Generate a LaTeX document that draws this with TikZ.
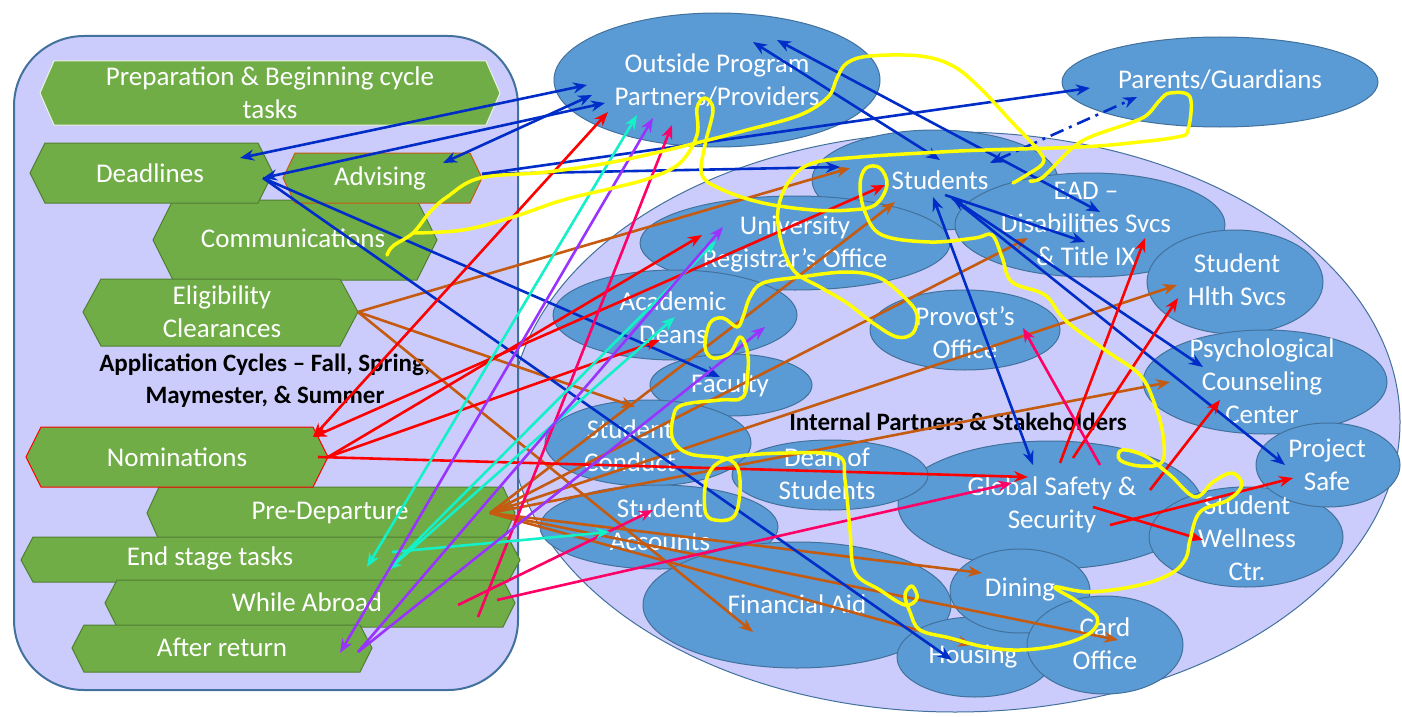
\documentclass[tikz,border=0pt]{standalone}
\usepackage{fontspec}
\setmainfont{Carlito}
\usetikzlibrary{arrows.meta,shapes.geometric}
\definecolor{lav}{RGB}{204,204,252}
\definecolor{ellf}{RGB}{91,155,213}
\definecolor{elld}{RGB}{65,113,156}
\definecolor{grn}{RGB}{112,173,71}
\definecolor{grnd}{RGB}{80,126,50}
\definecolor{cblue}{RGB}{0,45,200}
\definecolor{cred}{RGB}{255,0,0}
\definecolor{cpink}{RGB}{255,0,102}
\definecolor{cteal}{RGB}{20,240,200}
\definecolor{cpurp}{RGB}{153,51,255}
\definecolor{cbrown}{RGB}{197,90,17}
\definecolor{cyel}{RGB}{255,255,0}
\tikzset{
  ell/.style={shape=ellipse, fill=ellf, draw=elld, line width=1pt, inner sep=0pt},
  lbl/.style={text=white, font=\fontsize{27}{33}\selectfont, align=center, inner sep=0pt},
  ttl/.style={text=black, font=\fontsize{25}{32}\selectfont\bfseries, align=center, inner sep=0pt},
  hexbox/.style={fill=grn, draw=grnd, line width=1pt},
  tipb/.tip={Stealth[length=14pt,width=11pt]},
  conn/.style={line width=2.6pt, -tipb},
  conn2/.style={line width=2.6pt, tipb-tipb},
  yel/.style={draw=cyel, line width=3.5pt, line cap=round, line join=round},
}
\begin{document}
\begin{tikzpicture}[x=1pt,y=-1pt]
\useasboundingbox (0,0) rectangle (1402,717);
\fill[white] (0,0) rectangle (1402,717);
% internal partners big ellipse
\node[ell, fill=lav, minimum width=890, minimum height=580] (internal) at (955,422) {};
% outside ellipses
\node[ell, minimum width=326, minimum height=134] (outside) at (717,80) {};
\node[ell, minimum width=316, minimum height=90] (parents) at (1220,82) {};
% inner ellipses
\node[ell, minimum width=246, minimum height=100] (students) at (935,180) {};
\node[ell, minimum width=270, minimum height=104] (ead) at (1090,225) {};
\node[ell, minimum width=310, minimum height=94] (registrar) at (795,243) {};
\node[ell, minimum width=176, minimum height=104] (hlth) at (1235,282) {};
\node[ell, minimum width=244, minimum height=90] (deans) at (675,315) {};
\node[ell, minimum width=190, minimum height=80] (provost) at (965,330) {};
\node[ell, minimum width=162, minimum height=62] (faculty) at (731,385) {};
\node[ell, minimum width=244, minimum height=104] (psych) at (1265,382) {};
\node[ell, minimum width=206, minimum height=86] (conduct) at (648,443) {};
\node[ell, minimum width=304, minimum height=128] (global) at (1050,505) {};
\node[ell, minimum width=196, minimum height=70] (deanstu) at (830,475) {};
\node[ell, minimum width=194, minimum height=100] (wellness) at (1246,537) {};
\node[ell, minimum width=144, minimum height=84] (safe) at (1328,465) {};
\node[ell, minimum width=238, minimum height=84] (accounts) at (659,527) {};
\node[ell, minimum width=308, minimum height=126] (finaid) at (797,605) {};
\node[ell, minimum width=156, minimum height=80] (housing) at (975,657) {};
\node[ell, minimum width=140, minimum height=84] (dining) at (1020,591) {};
\node[ell, minimum width=156, minimum height=98] (card) at (1105,645) {};
% ellipse labels
\node[lbl] (tOutside) at (717,80) {Outside Program\\Partners/Providers};
\node[lbl] (tParents) at (1220,80) {Parents/Guardians};
\node[lbl] (tStudents) at (940,180) {Students};
\node[lbl] (tEad) at (1086,224) {EAD –\\Disabilities Svcs\\\& Title IX};
\node[lbl] (tRegistrar) at (795,244) {University\\Registrar’s Office};
\node[lbl] (tHlth) at (1237,280) {Student\\Hlth Svcs};
\node[lbl] (tDeans) at (673,318) {Academic\\Deans};
\node[lbl] (tProvost) at (965,333) {Provost’s\\Office};
\node[lbl] (tFaculty) at (730,385) {Faculty};
\node[lbl] (tPsych) at (1262,381) {Psychological\\Counseling\\Center};
\node[lbl] (tConduct) at (630,446) {Student\\Conduct};
\node[lbl] (tDeanstu) at (827,474) {Dean of\\Students};
\node[lbl] (tGlobal) at (1052,505) {Global Safety \&\\Security};
\node[lbl] (tSafe) at (1327,465) {Project\\Safe};
\node[lbl] (tWellness) at (1247,538) {Student\\Wellness\\Ctr.};
\node[lbl] (tAccounts) at (660,525) {Student\\Accounts};
\node[lbl] (tFinaid) at (797,604) {Financial Aid};
\node[lbl] (tDining) at (1020,590) {Dining};
\node[lbl] (tHousing) at (973,657) {Housing};
\node[lbl] (tCard) at (1105,644) {Card\\Office};
\node[ttl] (tInternal) at (958,422) {Internal Partners \& Stakeholders};
% left panel
\draw[fill=lav, draw=elld, line width=2pt, rounded corners=70pt] (14,36) rectangle (518,690);
\path[hexbox, draw=white!85!grn] (40,93) -- (54,61) -- (486,61) -- (500,93) -- (486,125) -- (54,125) -- cycle;
\path[hexbox] (153,240) -- (173,200) -- (417,200) -- (437,240) -- (417,280) -- (173,280) -- cycle;
\path[hexbox] (30,173) -- (45,143) -- (258,143) -- (273,173) -- (258,203) -- (45,203) -- cycle;
\path[hexbox, draw=cbrown] (283,178) -- (295,153) -- (470,153) -- (482,178) -- (470,203) -- (295,203) -- cycle;
\path[hexbox] (83,312) -- (101,279) -- (340,279) -- (358,312) -- (340,346) -- (101,346) -- cycle;
\path[hexbox] (147,513) -- (159,487) -- (503,487) -- (515,513) -- (503,540) -- (159,540) -- cycle;
\path[hexbox, draw=cred] (26,457) -- (41,427) -- (313,427) -- (328,457) -- (313,487) -- (41,487) -- cycle;
\path[hexbox] (21,560) -- (33,537) -- (508,537) -- (520,560) -- (508,582) -- (33,582) -- cycle;
\path[hexbox] (105,603) -- (117,580) -- (503,580) -- (515,603) -- (503,627) -- (117,627) -- cycle;
\path[hexbox] (72,648) -- (84,625) -- (360,625) -- (372,648) -- (360,672) -- (84,672) -- cycle;
\node[lbl] (prep) at (270,93) {Preparation \& Beginning cycle\\tasks};
\node[lbl] (deadlines) at (150,173) {Deadlines};
\node[lbl] (advising) at (380,178) {Advising};
\node[lbl] (comm) at (293,238) {Communications};
\node[lbl] (elig) at (222,312) {Eligibility\\Clearances};
\node[ttl] (cycles) at (265,381) {Application Cycles – Fall, Spring,\\Maymester, \& Summer};
\node[lbl] (nomin) at (177,457) {Nominations};
\node[lbl] (predep) at (330,513) {Pre-Departure};
\node[lbl] (endst) at (210,558) {End stage tasks};
\node[lbl] (abroad) at (307,602) {While Abroad};
\node[lbl] (after) at (222,647) {After return};
% connector end points
\coordinate (dlA) at (240,158); \coordinate (dlB) at (263,178);
\coordinate (advR) at (443,163); \coordinate (advE) at (482,174);
\coordinate (outA) at (587,85); \coordinate (outB) at (605,103); \coordinate (outC) at (592,95);
\coordinate (outD) at (753,42); \coordinate (outE) at (777,40);
\coordinate (outR) at (608,112); \coordinate (outT) at (637,115); \coordinate (outU) at (653,118); \coordinate (outP) at (672,125);
\coordinate (parA) at (1090,88); \coordinate (parB) at (1137,97);
\coordinate (stuA) at (840,167); \coordinate (stuB) at (990,163); \coordinate (stuC) at (940,160);
\coordinate (stuD) at (945,195); \coordinate (stuE) at (933,197); \coordinate (stuF) at (952,198);
\coordinate (stuR) at (885,185); \coordinate (stuN) at (850,168); \coordinate (stuM) at (895,202);
\coordinate (eadA) at (1100,212); \coordinate (eadB) at (1085,242); \coordinate (eadR) at (1145,238); \coordinate (eadN) at (1028,238);
\coordinate (gloA) at (1033,465); \coordinate (gloR) at (1028,477); \coordinate (gloP) at (1012,483);
\coordinate (gloS1) at (1060,463); \coordinate (gloS2) at (1073,458); \coordinate (gloS3) at (1150,490);
\coordinate (gloS4) at (1093,507); \coordinate (gloS5) at (1110,525); \coordinate (gloS6) at (1100,465);
\coordinate (psyA) at (1203,367); \coordinate (psyR) at (1220,400); \coordinate (psyN) at (1170,382);
\coordinate (safA) at (1285,465); \coordinate (safR) at (1293,478);
\coordinate (hltR) at (1178,298); \coordinate (hltN) at (1177,285);
\coordinate (welR) at (1203,540);
\coordinate (proP) at (1023,328);
\coordinate (facA) at (720,377);
\coordinate (houA) at (952,660); \coordinate (houN) at (972,645);
\coordinate (nomA) at (313,437); \coordinate (nomB) at (328,457); \coordinate (nomC) at (318,457);
\coordinate (regR) at (702,235); \coordinate (regU) at (723,227); \coordinate (regT) at (716,241);
\coordinate (deaR) at (660,340); \coordinate (deaT) at (675,317); \coordinate (deaU) at (765,327);
\coordinate (abA) at (478,617); \coordinate (abB) at (458,605); \coordinate (abC) at (497,600);
\coordinate (accP) at (653,510); \coordinate (accT) at (610,532);
\coordinate (esA) at (367,567); \coordinate (esB) at (388,570); \coordinate (esC) at (392,552);
\coordinate (arA) at (340,653); \coordinate (arB) at (358,652);
\coordinate (elR) at (358,312); \coordinate (conN) at (635,407); \coordinate (finN) at (753,632);
\coordinate (pdR) at (490,513); \coordinate (dinN) at (982,573); \coordinate (carN) at (1118,640);
% brown
\begin{scope}[draw=cbrown, color=cbrown]
\draw[conn] (elR) -- (stuN);
\draw[conn] (elR) -- (conN);
\draw[conn] (elR) -- (finN);
\draw[conn] (pdR) -- (stuM);
\draw[conn] (pdR) -- (eadN);
\draw[conn] (pdR) -- (hltN);
\draw[conn] (pdR) -- (psyN);
\draw[conn] (pdR) -- (dinN);
\draw[conn] (pdR) -- (carN);
\draw[conn] (pdR) -- (houN);
\end{scope}
% blue
\begin{scope}[draw=cblue, color=cblue]
\draw[conn2] (dlA) -- (outA);
\draw[conn2] (dlB) -- (outB);
\draw[conn2] (advR) -- (outC);
\draw[conn] (advE) -- (stuA);
\draw[conn] (advE) -- (parA);
\draw[conn2, dash pattern=on 14pt off 6pt on 3pt off 6pt] (stuB) -- (parB);
\draw[conn2] (outD) -- (stuC);
\draw[conn2] (outE) -- (eadA);
\draw[conn] (stuD) -- (eadB);
\draw[conn2] (stuE) -- (gloA);
\draw[conn2] (stuF) -- (psyA);
\draw[conn] (stuF) -- (safA);
\draw[conn] (dlB) -- (facA);
\draw[conn] (dlB) -- (houA);
\end{scope}
% red
\begin{scope}[draw=cred, color=cred]
\draw[conn2] (nomA) -- (outR);
\draw[conn2] (nomA) -- (stuR);
\draw[conn] (nomB) -- (regR);
\draw[conn] (nomB) -- (deaR);
\draw[conn] (nomC) -- (gloR);
\draw[conn] (gloS1) -- (eadR);
\draw[conn] (gloS2) -- (hltR);
\draw[conn] (gloS3) -- (psyR);
\draw[conn] (gloS4) -- (welR);
\draw[conn] (gloS5) -- (safR);
\end{scope}
% pink
\begin{scope}[draw=cpink, color=cpink]
\draw[conn] (abA) -- (outP);
\draw[conn] (abB) -- (accP);
\draw[conn] (abC) -- (gloP);
\draw[conn] (gloS6) -- (proP);
\end{scope}
% teal
\begin{scope}[draw=cteal, color=cteal]
\draw[conn2] (esA) -- (outT);
\draw[conn2] (esB) -- (deaT);
\draw[conn] (esB) -- (regT);
\draw[conn] (esC) -- (accT);
\end{scope}
% purple
\begin{scope}[draw=cpurp, color=cpurp]
\draw[conn2] (arA) -- (outU);
\draw[conn] (arB) -- (regU);
\draw[conn] (arB) -- (deaU);
\end{scope}
% yellow scribbles
\draw[yel] plot[smooth, tension=0.6] coordinates {(387,255) (393,246) (413,233) (430,212) (447,197) (480,178) (547,172) (613,162) (680,147) (747,130) (800,115) (828,97) (837,78) (847,63) (870,56) (920,56) (953,66) (980,88) (1010,120) (1038,150) (1043,163) (1025,176) (1013,183)};
\draw[yel] plot[smooth, tension=0.6] coordinates {(413,233) (463,230) (513,217) (563,200) (613,188) (650,178) (680,163) (697,135) (697,108) (705,98) (713,110) (705,145) (702,175) (723,190) (763,203) (813,210) (850,210) (875,205) (887,185) (880,168) (866,168) (860,185) (865,212) (882,235) (930,242) (975,238) (992,235) (1002,257) (1012,282) (1045,295) (1065,320) (1105,350) (1140,375) (1155,405) (1163,435) (1162,462) (1140,466) (1120,460) (1122,450) (1145,456) (1170,475) (1195,497) (1213,482) (1232,473) (1242,485) (1228,500) (1200,512) (1190,540) (1186,558) (1172,573) (1140,585) (1090,592) (1055,587) (1075,600) (1097,617) (1090,633) (1060,645) (1020,650) (985,647) (950,638) (920,630) (910,612) (905,595) (912,586) (917,598) (905,605) (880,590) (855,572) (850,530) (845,480) (838,456) (787,453) (730,458) (708,475) (705,510) (715,520) (735,515) (740,480) (730,460) (690,454) (673,440) (673,418) (682,405) (720,400) (743,397) (748,370) (747,350) (740,337) (730,353) (713,358) (705,347) (710,323) (723,318) (737,327) (743,317) (750,297) (763,283) (800,277) (847,272) (880,278) (907,300) (917,315) (913,333) (897,337) (873,323) (847,303) (820,287) (795,272) (782,245) (778,210) (790,180) (813,163) (860,157) (940,152) (985,150) (1080,147) (1130,143) (1177,137) (1188,130) (1190,97) (1170,93) (1160,100) (1147,115) (1130,123) (1090,137) (1070,150) (1043,177) (1030,181)};
\end{tikzpicture}
\end{document}
